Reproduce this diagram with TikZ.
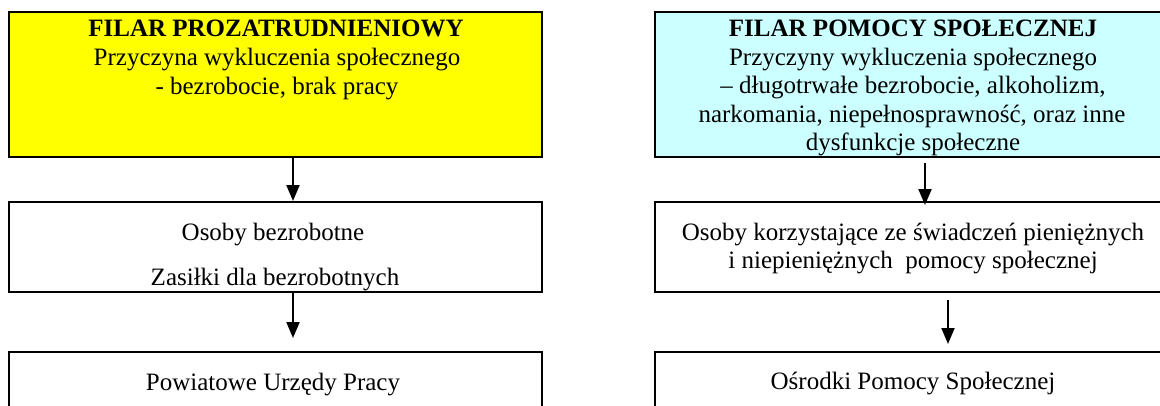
\documentclass[tikz,border=0pt]{standalone}
\usepackage{fontspec}
\setmainfont{Liberation Serif}
\usetikzlibrary{arrows.meta}
\definecolor{pillarYellow}{RGB}{255,255,0}
\definecolor{pillarCyan}{RGB}{204,255,255}
\tikzset{
  boxnode/.style={draw=black, line width=2pt, rectangle, inner sep=0pt, fill=white},
  txt/.style={anchor=base, inner sep=0pt, font=\fontsize{25}{29}\selectfont},
  txtb/.style={txt, font=\fontsize{25}{29}\selectfont\bfseries},
  arr/.style={line width=2pt, -{Triangle[length=16pt,width=13pt]}}
}
\begin{document}
\begin{tikzpicture}[x=1pt,y=-1pt]
\useasboundingbox (0,0) rectangle (1160,405);
\clip (0,0) rectangle (1160,405);
\fill[white] (0,0) rectangle (1160,405);
% left column
\node[boxnode, fill=pillarYellow, minimum width=533pt, minimum height=145pt] (L1) at (275.5,84.5) {};
\node[boxnode, minimum width=533pt, minimum height=90pt] (L2) at (275.5,247) {};
\node[boxnode, minimum width=533pt, minimum height=100pt] (L3) at (275.5,402) {};
% right column
\node[boxnode, fill=pillarCyan, minimum width=515pt, minimum height=145pt] (R1) at (912.5,84.5) {};
\node[boxnode, minimum width=515pt, minimum height=90pt] (R2) at (912.5,247) {};
\node[boxnode, minimum width=515pt, minimum height=100pt] (R3) at (912.5,402) {};
% texts left
\node[txtb] (l1a) at (276,36) {FILAR PROZATRUDNIENIOWY};
\node[txt] (l1b) at (277,65.5) {Przyczyna wykluczenia społecznego};
\node[txt] (l1c) at (277,94) {- bezrobocie, brak pracy};
\node[txt] (l2a) at (273,240) {Osoby bezrobotne};
\node[txt] (l2b) at (275,285) {Zasiłki dla bezrobotnych};
\node[txt] (l3a) at (273,390) {Powiatowe Urzędy Pracy};
% texts right
\node[txtb] (r1a) at (913,36) {FILAR POMOCY SPOŁECZNEJ};
\node[txt] (r1b) at (913,65) {Przyczyny wykluczenia społecznego};
\node[txt] (r1c) at (913,93.5) {– długotrwałe bezrobocie, alkoholizm,};
\node[txt] (r1d) at (912,122) {narkomania, niepełnosprawność, oraz inne};
\node[txt] (r1e) at (913,150.5) {dysfunkcje społeczne};
\node[txt] (r2a) at (913,240) {Osoby korzystające ze świadczeń pieniężnych};
\node[txt] (r2b) at (913,268) {i niepieniężnych\ \ pomocy społecznej};
\node[txt] (r3a) at (913,389) {Ośrodki Pomocy Społecznej};
% connectors
\coordinate (xl) at (293,0);
\coordinate (xr1) at (925,0);
\coordinate (xr2) at (948,0);
\coordinate (tl2) at (293,338);
\coordinate (tr2) at (948,344);
\draw[arr] (L1.south -| xl) -- (L2.north -| xl);
\draw[arr] (L2.south -| xl) -- (tl2);
\draw[arr, shorten <=5pt, shorten >=-4pt] (R1.south -| xr1) -- (R2.north -| xr1);
\draw[arr, shorten <=7pt] (R2.south -| xr2) -- (tr2);
\end{tikzpicture}
\end{document}
